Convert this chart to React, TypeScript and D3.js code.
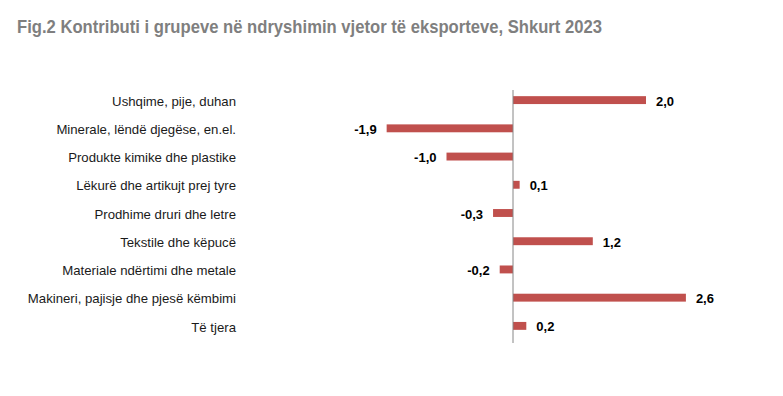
import React from "react";
import { scaleLinear, scaleBand } from "d3";

const title = "Fig.2  Kontributi i grupeve në ndryshimin vjetor të eksporteve, Shkurt 2023";

const categories = [
  "Ushqime, pije, duhan",
  "Minerale, lëndë djegëse, en.el.",
  "Produkte kimike dhe plastike",
  "Lëkurë dhe artikujt prej tyre",
  "Prodhime druri dhe letre",
  "Tekstile dhe këpucë",
  "Materiale ndërtimi dhe metale",
  "Makineri, pajisje dhe pjesë këmbimi",
  "Të tjera",
];

const values = [2.0, -1.9, -1.0, 0.1, -0.3, 1.2, -0.2, 2.6, 0.2];

const W = 783;
const H = 396;

function App() {
  const x = scaleLinear().domain([-2, 3]).range([380, 712.5]);
  const y = scaleBand<string>()
    .domain(categories)
    .range([86, 340])
    .paddingInner(0.72)
    .paddingOuter(0.36);

  const fmt = (v: number) => v.toFixed(1).replace(".", ",");
  const x0 = x(0);

  return (
    <svg
      width={W}
      height={H}
      style={{ position: "absolute", left: 0, top: 0, background: "#fff" }}
      fontFamily="'Liberation Sans', Arial, sans-serif"
    >
      <text
        x={17}
        y={33}
        fontSize={19}
        fontWeight="bold"
        fill="#7f7f7f"
        textLength={585}
        lengthAdjust="spacingAndGlyphs"
      >
        {title}
      </text>

      {/* category labels */}
      {categories.map((c) => (
        <text
          key={c}
          x={236}
          y={(y(c) ?? 0) + y.bandwidth() / 2 + 1}
          dy="0.35em"
          textAnchor="end"
          fontSize={13.2}
          fill="#1a1a1a"
        >
          {c}
        </text>
      ))}

      {/* bars */}
      {values.map((v, i) => {
        const c = categories[i];
        return (
          <rect
            key={c}
            x={Math.min(x(v), x0)}
            y={y(c)}
            width={Math.abs(x(v) - x0)}
            height={y.bandwidth()}
            fill="#c0504d"
          />
        );
      })}

      {/* value labels */}
      {values.map((v, i) => {
        const c = categories[i];
        const pos = v >= 0;
        return (
          <text
            key={c}
            x={pos ? x(v) + 10 : x(v) - 10}
            y={(y(c) ?? 0) + y.bandwidth() / 2 + 1}
            dy="0.35em"
            textAnchor={pos ? "start" : "end"}
            fontSize={13}
            fontWeight="bold"
            fill="#000"
          >
            {fmt(v)}
          </text>
        );
      })}

      {/* zero axis */}
      <line x1={x0} x2={x0} y1={90} y2={343} stroke="#868686" strokeWidth={1} />
    </svg>
  );
}

export default App;
